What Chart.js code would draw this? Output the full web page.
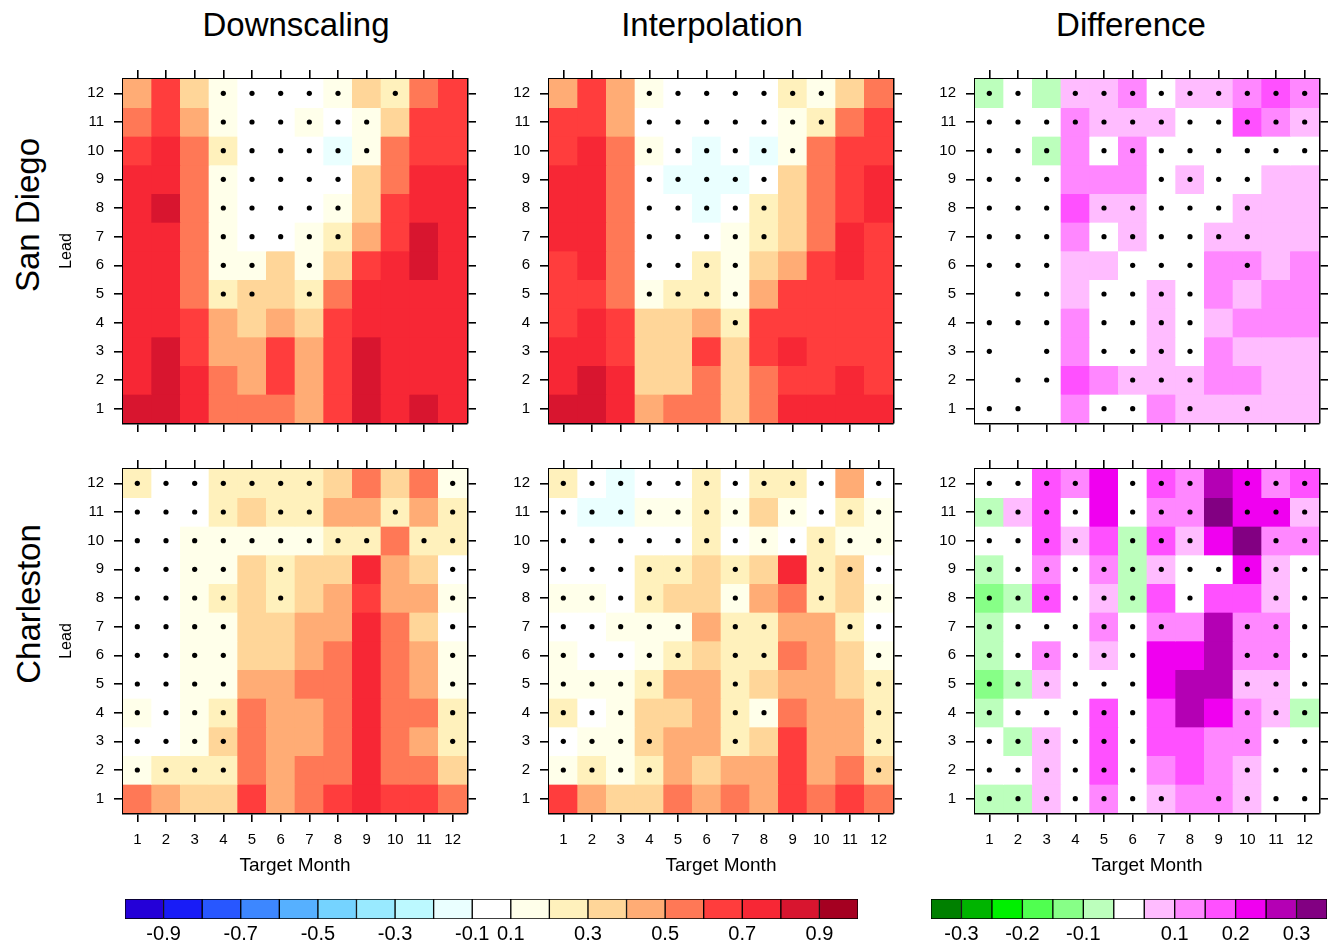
<!DOCTYPE html>
<html>
<head>
<meta charset="utf-8">
<title>Forecast skill by lead and target month</title>
<script src="https://cdn.jsdelivr.net/npm/chart.js@4.4.0/dist/chart.umd.min.js"></script>
<style>
    body {
        margin: 0;
        width: 1332px;
        height: 947px;
        position: relative;
        overflow: hidden;
        background: #ffffff;
        font-family: 'Liberation Sans', Arial, sans-serif;
        color: #000;
    }
    canvas { position: absolute; }
    .col-title {
        position: absolute;
        font-size: 33px;
        line-height: 33px;
        white-space: nowrap;
        transform: translateX(-50%);
    }
    .row-title {
        position: absolute;
        font-size: 33px;
        line-height: 33px;
        white-space: nowrap;
        transform: translate(-50%, -50%) rotate(-90deg);
    }
</style>
</head>
<body>
<div class="col-title" style="left:296px; top:8px">Downscaling</div>
<div class="col-title" style="left:712px; top:8px">Interpolation</div>
<div class="col-title" style="left:1131px; top:8px">Difference</div>
<div class="row-title" style="left:27px; top:215px">San Diego</div>
<div class="row-title" style="left:28px; top:604px">Charleston</div>

<canvas id="sdDownChart"></canvas>
<canvas id="sdInterpChart"></canvas>
<canvas id="sdDiffChart"></canvas>
<canvas id="chDownChart"></canvas>
<canvas id="chInterpChart"></canvas>
<canvas id="chDiffChart"></canvas>
<canvas id="corrBar"></canvas>
<canvas id="diffBar"></canvas>

<script>
// Axes
const months = ['1', '2', '3', '4', '5', '6', '7', '8', '9', '10', '11', '12'];
const leads = [1, 2, 3, 4, 5, 6, 7, 8, 9, 10, 11, 12];

// Correlations, rows run from lead 12 (top) down to lead 1, columns are months 1..12
const sdDown = [
    [0.45, 0.65, 0.35, 0.15, 0, 0, 0, 0.15, 0.35, 0.25, 0.55, 0.65],
    [0.55, 0.65, 0.45, 0.15, 0, 0, 0.15, 0, 0.15, 0.35, 0.65, 0.65],
    [0.65, 0.75, 0.55, 0.25, 0, 0, 0, -0.15, 0.15, 0.55, 0.65, 0.65],
    [0.75, 0.75, 0.55, 0.15, 0, 0, 0, 0, 0.35, 0.55, 0.75, 0.75],
    [0.75, 0.85, 0.55, 0.15, 0, 0, 0, 0.15, 0.35, 0.65, 0.75, 0.75],
    [0.75, 0.75, 0.55, 0.15, 0, 0, 0.15, 0.25, 0.45, 0.65, 0.85, 0.75],
    [0.75, 0.75, 0.55, 0.15, 0.15, 0.35, 0.15, 0.35, 0.65, 0.75, 0.85, 0.75],
    [0.75, 0.75, 0.55, 0.25, 0.35, 0.35, 0.25, 0.55, 0.75, 0.75, 0.75, 0.75],
    [0.75, 0.75, 0.65, 0.45, 0.35, 0.45, 0.35, 0.65, 0.75, 0.75, 0.75, 0.75],
    [0.75, 0.85, 0.65, 0.45, 0.45, 0.65, 0.45, 0.65, 0.85, 0.75, 0.75, 0.75],
    [0.75, 0.85, 0.75, 0.55, 0.45, 0.65, 0.45, 0.65, 0.85, 0.75, 0.75, 0.75],
    [0.85, 0.85, 0.75, 0.55, 0.55, 0.55, 0.45, 0.65, 0.85, 0.75, 0.85, 0.75]
];
const sdInterp = [
    [0.45, 0.65, 0.45, 0.15, 0, 0, 0, 0, 0.25, 0.15, 0.35, 0.55],
    [0.65, 0.65, 0.45, 0, 0, 0, 0, 0, 0.15, 0.25, 0.55, 0.65],
    [0.65, 0.75, 0.55, 0.15, 0, -0.15, 0, -0.15, 0.15, 0.55, 0.65, 0.65],
    [0.75, 0.75, 0.55, 0, -0.15, -0.15, -0.15, 0, 0.35, 0.55, 0.65, 0.75],
    [0.75, 0.75, 0.55, 0, 0, -0.15, 0, 0.25, 0.35, 0.55, 0.65, 0.75],
    [0.75, 0.75, 0.55, 0, 0, 0, 0.15, 0.25, 0.35, 0.55, 0.75, 0.65],
    [0.65, 0.75, 0.55, 0, 0, 0.25, 0.15, 0.35, 0.45, 0.65, 0.75, 0.65],
    [0.65, 0.65, 0.55, 0.15, 0.25, 0.25, 0.15, 0.45, 0.65, 0.65, 0.65, 0.65],
    [0.65, 0.75, 0.65, 0.35, 0.35, 0.45, 0.25, 0.65, 0.65, 0.65, 0.65, 0.65],
    [0.75, 0.75, 0.65, 0.35, 0.35, 0.65, 0.35, 0.65, 0.75, 0.65, 0.65, 0.65],
    [0.75, 0.85, 0.75, 0.35, 0.35, 0.55, 0.35, 0.55, 0.65, 0.65, 0.75, 0.65],
    [0.85, 0.85, 0.75, 0.45, 0.55, 0.55, 0.35, 0.55, 0.75, 0.75, 0.75, 0.75]
];
const sdDiff = [
    [-0.07, 0, -0.07, 0.07, 0.07, 0.12, 0, 0.07, 0.07, 0.12, 0.17, 0.12],
    [0, 0, 0, 0.12, 0.07, 0.07, 0.07, 0, 0, 0.17, 0.12, 0.07],
    [0, 0, -0.07, 0.12, 0, 0.12, 0, 0, 0, 0, 0, 0],
    [0, 0, 0, 0.12, 0.12, 0.12, 0, 0.07, 0, 0, 0.07, 0.07],
    [0, 0, 0, 0.17, 0.07, 0.07, 0, 0, 0, 0.07, 0.07, 0.07],
    [0, 0, 0, 0.12, 0, 0.07, 0, 0, 0.07, 0.07, 0.07, 0.07],
    [0, 0, 0, 0.07, 0.07, 0, 0, 0, 0.12, 0.12, 0.07, 0.12],
    [0, 0, 0, 0.07, 0, 0, 0.07, 0, 0.12, 0.07, 0.12, 0.12],
    [0, 0, 0, 0.12, 0, 0, 0.07, 0, 0.07, 0.12, 0.12, 0.12],
    [0, 0, 0, 0.12, 0, 0, 0.07, 0, 0.12, 0.07, 0.07, 0.07],
    [0, 0, 0, 0.17, 0.12, 0.07, 0.07, 0.07, 0.12, 0.12, 0.07, 0.07],
    [0, 0, 0, 0.12, 0, 0, 0.12, 0.07, 0.07, 0.07, 0.07, 0.07]
];
const chDown = [
    [0.25, 0, 0, 0.25, 0.25, 0.25, 0.25, 0.35, 0.55, 0.35, 0.55, 0.15],
    [0, 0, 0, 0.25, 0.35, 0.25, 0.25, 0.45, 0.45, 0.25, 0.45, 0.25],
    [0, 0, 0.15, 0.15, 0.15, 0.15, 0.15, 0.25, 0.25, 0.55, 0.25, 0.25],
    [0, 0, 0.15, 0.15, 0.35, 0.25, 0.35, 0.35, 0.75, 0.45, 0.35, 0],
    [0, 0, 0.15, 0.25, 0.35, 0.25, 0.35, 0.45, 0.65, 0.45, 0.45, 0.15],
    [0, 0, 0.15, 0.15, 0.35, 0.35, 0.45, 0.45, 0.75, 0.55, 0.35, 0],
    [0, 0, 0.15, 0.15, 0.35, 0.35, 0.45, 0.55, 0.75, 0.55, 0.45, 0.15],
    [0, 0, 0.15, 0.15, 0.45, 0.45, 0.55, 0.55, 0.75, 0.55, 0.45, 0.15],
    [0.15, 0, 0.15, 0.25, 0.55, 0.45, 0.45, 0.55, 0.75, 0.55, 0.55, 0.25],
    [0, 0, 0.15, 0.35, 0.55, 0.45, 0.45, 0.55, 0.75, 0.55, 0.45, 0.25],
    [0.15, 0.25, 0.25, 0.25, 0.55, 0.45, 0.55, 0.55, 0.75, 0.55, 0.55, 0.35],
    [0.55, 0.45, 0.35, 0.35, 0.65, 0.45, 0.55, 0.65, 0.75, 0.65, 0.65, 0.55]
];
const chInterp = [
    [0.25, 0, -0.15, 0, 0, 0.25, 0, 0.25, 0.25, 0, 0.45, 0],
    [0, -0.15, -0.15, 0.15, 0.15, 0.25, 0.15, 0.35, 0.15, 0, 0.25, 0.15],
    [0, 0, 0, 0, 0, 0.25, 0, 0.15, 0, 0.25, 0.15, 0.15],
    [0, 0, 0, 0.25, 0.25, 0.35, 0.25, 0.35, 0.75, 0.25, 0.35, 0],
    [0.15, 0.15, 0, 0.25, 0.35, 0.35, 0.15, 0.45, 0.55, 0.25, 0.35, 0.15],
    [0, 0, 0.15, 0.15, 0.15, 0.45, 0.25, 0.25, 0.45, 0.45, 0.25, 0],
    [0.15, 0, 0, 0.15, 0.25, 0.35, 0.25, 0.25, 0.55, 0.45, 0.35, 0.15],
    [0.15, 0.15, 0.15, 0.25, 0.45, 0.45, 0.25, 0.35, 0.45, 0.45, 0.35, 0.25],
    [0.25, 0, 0.15, 0.35, 0.35, 0.45, 0.25, 0.15, 0.55, 0.45, 0.45, 0.25],
    [0, 0.15, 0.15, 0.35, 0.45, 0.45, 0.25, 0.35, 0.65, 0.45, 0.45, 0.25],
    [0.15, 0.25, 0.15, 0.25, 0.45, 0.35, 0.45, 0.45, 0.65, 0.45, 0.55, 0.35],
    [0.65, 0.45, 0.35, 0.35, 0.55, 0.45, 0.55, 0.45, 0.65, 0.55, 0.65, 0.55]
];
const chDiff = [
    [0, 0, 0.17, 0.12, 0.22, 0, 0.17, 0.12, 0.27, 0.22, 0.12, 0.17],
    [-0.07, 0.07, 0.17, 0, 0.22, 0, 0.12, 0.12, 0.32, 0.22, 0.22, 0.07],
    [0, 0, 0.17, 0.07, 0.17, -0.07, 0.17, 0.07, 0.22, 0.32, 0.12, 0.12],
    [-0.07, 0, 0.12, 0, 0.12, -0.07, 0.07, 0, 0, 0.22, 0.07, 0],
    [-0.12, -0.07, 0.17, 0, 0.07, -0.07, 0.17, 0, 0.17, 0.17, 0.07, 0],
    [-0.07, 0, 0, 0, 0.12, 0, 0.12, 0.12, 0.27, 0.12, 0.12, 0],
    [-0.07, 0, 0.12, 0, 0.07, 0, 0.22, 0.22, 0.27, 0.12, 0.12, 0],
    [-0.12, -0.07, 0.07, 0, 0, 0, 0.22, 0.27, 0.27, 0.07, 0.07, 0],
    [-0.07, 0, 0, 0, 0.17, 0, 0.17, 0.27, 0.22, 0.12, 0.07, -0.07],
    [0, -0.07, 0.07, 0, 0.17, 0, 0.17, 0.17, 0.12, 0.12, 0, 0],
    [0, 0, 0.07, 0, 0.17, 0, 0.12, 0.17, 0.12, 0.07, 0, 0],
    [-0.07, -0.07, 0.07, 0, 0.12, 0, 0.07, 0.12, 0.12, 0.07, 0, 0]
];

// Significance dots ('1' = dot), same row order as above
const sdDownSig = ['000111110100', '000111111000', '000111111000', '000111110000',
    '000111110000', '000111110000', '000110100000', '000110100000',
    '000000000000', '000000000000', '000000000000', '000000000000'];
const sdInterpSig = ['000111111100', '000111111100', '000111111000', '000111110000',
    '000111110000', '000111110000', '000111100000', '000111100000',
    '000000100000', '000000000000', '000000000000', '000000000000'];
const sdDiffSig = ['110111111111', '111111111111', '111011111111', '111000111100',
    '111011111100', '111011111100', '111001110100', '011011110000',
    '111011110000', '101011110000', '011001110000', '110011010100'];
const chDownSig = ['111111100001', '111101100101', '111111111011', '111101000001',
    '111101000001', '111100000001', '111100000001', '111100000001',
    '111100000001', '111100000001', '111100000000', '000000000000'];
const chInterpSig = ['111111111101', '111111101111', '111111111111', '111110100111',
    '111100100101', '111110110011', '111110110001', '111100100001',
    '111000110001', '111100100001', '111100000001', '000000000000'];
const chDiffSig = ['111101110111', '111101110111', '111101110011', '111111111111',
    '111111010011', '111111100111', '111111000111', '111111000111',
    '111111000111', '111111000111', '111111000111', '111111101111'];

// Colour scales
const corrLevels = [-0.9, -0.8, -0.7, -0.6, -0.5, -0.4, -0.3, -0.2, -0.1,
    0.1, 0.2, 0.3, 0.4, 0.5, 0.6, 0.7, 0.8, 0.9];
const corrColors = ['#2400d8', '#181cf7', '#2857ff', '#3d87ff', '#56b0ff', '#75d3ff',
    '#99eaff', '#bcf9ff', '#eaffff', '#ffffff', '#ffffea', '#fff1bc', '#ffd699',
    '#ffac75', '#ff7856', '#ff3d3d', '#f72735', '#d8152f', '#a50021'];
const corrTickLabels = ['-0.9', '-0.7', '-0.5', '-0.3', '-0.1', '0.1', '0.3', '0.5', '0.7', '0.9'];

const diffLevels = [-0.3, -0.25, -0.2, -0.15, -0.1, -0.05, 0.05, 0.1, 0.15, 0.2, 0.25, 0.3];
const diffColors = ['#008000', '#00b400', '#00f000', '#50ff50', '#87ff87', '#bcffbc', '#ffffff',
    '#ffbcff', '#ff87ff', '#ff50ff', '#f000f0', '#b400b4', '#820082'];
const diffTickLabels = ['-0.3', '-0.2', '-0.1', '0.1', '0.2', '0.3'];

const FONT = 'Liberation Sans, Arial, sans-serif';
const PLOT = 344;          // plot box size
const AXIS_L = 75;         // left axis strip (labels + "Lead")
const AXIS_R = 12;
const AXIS_T = 12;

/**
 * Pick the fill colour for a value from level boundaries
 */
function levelColor(value, levels, colors) {
    let i = 0;
    while (i < levels.length && value >= levels[i] - 1e-9) i++;
    return colors[i];
}

// Tick marks pointing outward, no grid inside the box
const tickGrid = {
    drawOnChartArea: false,
    drawTicks: true,
    tickLength: 9,
    color: '#000',
    lineWidth: 1.6,
    offset: false
};
const frame = { display: true, color: '#000', width: 2.5 };

function setLeadTicks(scale) {
    scale.ticks = leads.map(v => ({ value: v }));
}

// Fix axis strip size and drop the label overflow padding so the plot box stays put
function fixWidth(w) {
    return s => { s.width = w; s.paddingTop = 0; s.paddingBottom = 0; };
}
function fixHeight(h) {
    return s => { s.height = h; s.paddingLeft = 0; s.paddingRight = 0; };
}

/**
 * Draw one 12x12 panel as floating bars plus significance dots
 */
function drawPanel(id, left, top, values, sig, levels, colors, opts) {
    const canvas = document.getElementById(id);
    const bottomH = opts.xLabels ? 70 : 12;
    canvas.width = AXIS_L + PLOT + AXIS_R;
    canvas.height = AXIS_T + PLOT + bottomH;
    canvas.style.left = (left - AXIS_L) + 'px';
    canvas.style.top = (top - AXIS_T) + 'px';

    const datasets = values.map((row, r) => {
        const lead = leads[leads.length - 1 - r];
        return {
            type: 'bar',
            order: 1,
            xAxisID: 'x',
            yAxisID: 'y',
            data: months.map(() => [lead - 0.5, lead + 0.5]),
            backgroundColor: row.map(v => levelColor(v, levels, colors)),
            borderWidth: 0,
            barPercentage: 1,
            categoryPercentage: 1,
            grouped: false
        };
    });

    const dots = [];
    sig.forEach((rowStr, r) => {
        const lead = leads[leads.length - 1 - r];
        rowStr.split('').forEach((c, j) => {
            if (c === '1') dots.push({ x: months[j], y: lead });
        });
    });
    datasets.push({
        type: 'line',
        order: 0,
        xAxisID: 'x',
        yAxisID: 'y',
        data: dots,
        showLine: false,
        pointRadius: 2.6,
        pointBackgroundColor: '#000',
        pointBorderWidth: 0,
        pointHoverRadius: 2.6
    });

    return new Chart(canvas.getContext('2d'), {
        type: 'bar',
        data: { labels: months, datasets: datasets },
        options: {
            responsive: false,
            animation: false,
            events: [],
            layout: { padding: 0 },
            plugins: { legend: { display: false }, tooltip: { enabled: false } },
            scales: {
                x: {
                    type: 'category',
                    axis: 'x',
                    position: 'bottom',
                    offset: true,
                    z: 1,
                    grid: tickGrid,
                    border: frame,
                    ticks: {
                        display: opts.xLabels,
                        color: '#000',
                        font: { family: FONT, size: 15 },
                        padding: 9,
                        maxRotation: 0,
                        autoSkip: false
                    },
                    title: {
                        display: opts.xLabels,
                        text: 'Target Month',
                        color: '#000',
                        font: { family: FONT, size: 19 },
                        padding: { top: 0, bottom: 6 }
                    },
                    afterFit: fixHeight(bottomH)
                },
                x2: {
                    type: 'category',
                    axis: 'x',
                    position: 'top',
                    offset: true,
                    z: 1,
                    grid: tickGrid,
                    border: frame,
                    ticks: { display: false },
                    afterFit: fixHeight(AXIS_T)
                },
                y: {
                    type: 'linear',
                    axis: 'y',
                    position: 'left',
                    min: 0.5,
                    max: 12.5,
                    z: 1,
                    afterBuildTicks: setLeadTicks,
                    grid: tickGrid,
                    border: frame,
                    ticks: {
                        color: '#000',
                        font: { family: FONT, size: 15 },
                        padding: 10
                    },
                    title: {
                        display: opts.yTitle,
                        text: 'Lead',
                        color: '#000',
                        font: { family: FONT, size: 16 },
                        padding: { top: 9, bottom: 0 }
                    },
                    afterFit: fixWidth(AXIS_L)
                },
                y2: {
                    type: 'linear',
                    axis: 'y',
                    position: 'right',
                    min: 0.5,
                    max: 12.5,
                    z: 1,
                    afterBuildTicks: setLeadTicks,
                    grid: tickGrid,
                    border: frame,
                    ticks: { display: false },
                    afterFit: fixWidth(AXIS_R)
                }
            }
        }
    });
}

/**
 * Draw a horizontal labelbar as a row of floating boxes
 */
function drawLabelBar(id, left, top, width, levels, colors, tickLabels) {
    const canvas = document.getElementById(id);
    canvas.width = width + 20;
    canvas.height = 52;
    canvas.style.left = (left - 10) + 'px';
    canvas.style.top = (top - 4) + 'px';

    // boundary k (1-based) sits between box k-1 and box k
    const tickPos = tickLabels.map(t => levels.findIndex(l => Math.abs(l - parseFloat(t)) < 1e-9) + 1);
    const tickText = {};
    tickPos.forEach((p, i) => { tickText[p] = tickLabels[i]; });

    return new Chart(canvas.getContext('2d'), {
        type: 'bar',
        data: {
            labels: [''],
            datasets: colors.map((c, i) => ({
                data: [[i, i + 1]],
                backgroundColor: c,
                borderColor: '#000',
                borderWidth: 1,
                borderSkipped: false,
                barPercentage: 1,
                categoryPercentage: 1,
                grouped: false
            }))
        },
        options: {
            indexAxis: 'y',
            responsive: false,
            animation: false,
            events: [],
            layout: { padding: { left: 10, right: 10, top: 4, bottom: 0 } },
            plugins: { legend: { display: false }, tooltip: { enabled: false } },
            scales: {
                y: { display: false },
                x: {
                    type: 'linear',
                    min: 0,
                    max: colors.length,
                    grid: { display: false, drawTicks: false },
                    border: { display: false },
                    afterBuildTicks: s => { s.ticks = tickPos.map(v => ({ value: v })); },
                    ticks: {
                        color: '#000',
                        font: { family: FONT, size: 20 },
                        padding: 3,
                        maxRotation: 0,
                        autoSkip: false,
                        callback: v => tickText[v] || ''
                    },
                    afterFit: fixHeight(28)
                }
            }
        }
    });
}

const colLefts = [123, 549, 975];
const rowTops = [79, 469];

drawPanel('sdDownChart', colLefts[0], rowTops[0], sdDown, sdDownSig, corrLevels, corrColors, { xLabels: false, yTitle: true });
drawPanel('sdInterpChart', colLefts[1], rowTops[0], sdInterp, sdInterpSig, corrLevels, corrColors, { xLabels: false, yTitle: false });
drawPanel('sdDiffChart', colLefts[2], rowTops[0], sdDiff, sdDiffSig, diffLevels, diffColors, { xLabels: false, yTitle: false });
drawPanel('chDownChart', colLefts[0], rowTops[1], chDown, chDownSig, corrLevels, corrColors, { xLabels: true, yTitle: true });
drawPanel('chInterpChart', colLefts[1], rowTops[1], chInterp, chInterpSig, corrLevels, corrColors, { xLabels: true, yTitle: false });
drawPanel('chDiffChart', colLefts[2], rowTops[1], chDiff, chDiffSig, diffLevels, diffColors, { xLabels: true, yTitle: false });

drawLabelBar('corrBar', 125, 899, 733, corrLevels, corrColors, corrTickLabels);
drawLabelBar('diffBar', 931, 899, 396, diffLevels, diffColors, diffTickLabels);
</script>
</body>
</html>
